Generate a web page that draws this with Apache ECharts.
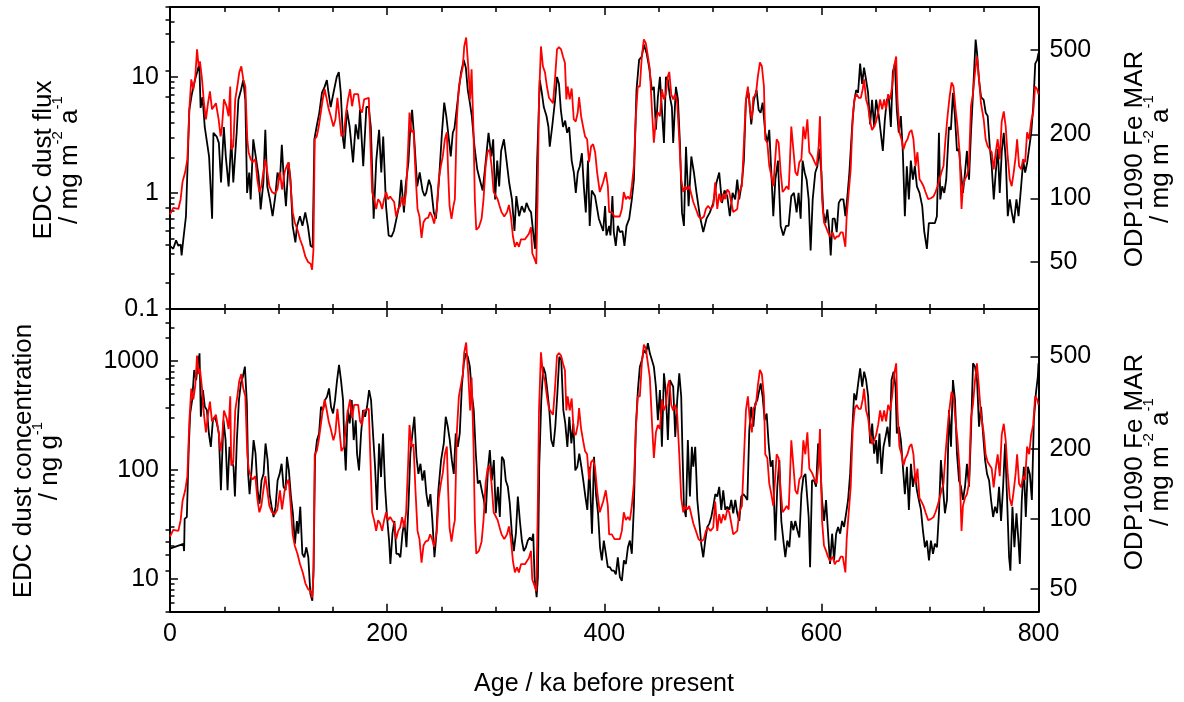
<!DOCTYPE html>
<html>
<head>
<meta charset="utf-8">
<script src="https://cdn.jsdelivr.net/npm/echarts@6/dist/echarts.min.js"></script>
<style>html,body{margin:0;padding:0;background:#fff}#c{width:1184px;height:702px}</style>
</head>
<body>
<div id="c"></div>
<script>
// ---------------- DATA ----------------
// EDC dust flux (mg m-2 a-1), top panel, black
const fluxAge = [0,3,5.6,7.7,9.8,10.7,12.3,14.7,17.8,20,23,25,27,28.2,30,32,36,38.8,40,43,45,47,49.6,51.4,54,56.5,58.3,61.4,63,65.4,67.5,69.4,71,73,74.3,76.7,79,81.6,83.5,86,87.8,89.6,92,94.5,97,99,101.3,103,105,106.8,109.2,111,113,115.5,117,119.7,122,124.6,127,129.5,131.4,133,135,137.5,140,142.4,144.5,146,148,150.6,153.6,155.5,157.3,159.4,160.6,163,165.5,168.6,171,173.5,175,178,180.9,183,185,187.6,190,192.6,194.6,196.4,199,201.4,204,206.2,208.6,211,213,215.5,217,219.6,221.4,223,225,227.7,230,232.6,234.5,236,238.5,240.4,243,245,247.8,250.5,252.6,254.5,256.9,258.6,260.5,262,264,266.4,268,270.6,272.5,274.3,276.2,278,280.5,283,285.4,288,290.4,293.4,296,297.7,299.5,301.4,303.2,305,307.6,310,312.4,315,317.3,319,321.6,324,326.5,328.4,330.8,332.6,334.5,336.3,338.2,340.6,342.5,344.3,346.8,348.6,349.8,352,354.7,356.5,358.3,360,362,364,365.8,367.7,370,372,373.8,375.6,377.5,379.4,381.2,383,385,386.6,388.5,391.5,395,399,400.8,402,404.5,405.7,407.5,408.8,410.6,412.5,414.4,416.8,418.6,420.5,423,425.4,427.3,429.7,432.1,434.6,436.5,439,441.4,443.9,445.7,447.6,449.4,451.3,453.1,455,456.8,458.6,460.5,462.3,463.5,466,467.9,469.7,471.6,473.4,475.3,477.7,480.2,482.6,485,488.1,491.2,494.2,497.3,500.4,503.4,505.9,508.4,510.8,513.3,515.7,518.2,520.6,522.5,524.3,526.8,528.6,530.5,533,535.4,537.9,540.3,542.2,544,545.9,548.3,550.2,552,553.9,555.7,557.6,560,562.5,564.9,567.4,569.8,572.3,574.7,577.2,579,580.9,582.7,584.6,586.4,588.3,590.1,592,594.4,596.3,598.1,600,601.8,603.7,605.5,607.4,608.6,610.4,612.3,614.1,616,617.8,620.3,622.1,624,625.8,628.3,630.1,632,633.8,635.7,637.5,639.3,641.2,643,644.9,646.7,648.6,650.4,652.9,654.7,656.6,658.4,660.3,662.1,664,665.8,667.7,669.5,671.3,673.2,675,676.9,678.7,680.6,682.4,684.3,686.1,688,690.4,692.9,694.7,697.2,699,701.5,704.6,706.4,708.3,709.5,711.3,713.2,715,717.5,719.3,721.2,723,724.9,726.7,728.6,730.4,732.3,734.1,736,737.8,739.7,742.1,743.4,745.2,747.1,749.5,751.4,753.2,755.1,756.9,758.8,760.6,762.5,764.3,766.2,768,769.9,771.7,773.6,775.4,777.3,779.7,781.6,784,785.9,787.7,789.6,791.4,793.3,795.1,797,798.8,800];
const fluxVal = [0.35,0.33,0.39,0.35,0.36,0.29,0.40,0.63,5.2,7.0,9.4,11,13,5.4,6.7,3.7,2.06,0.6,3.3,3.06,2.7,1.23,3.7,2.06,1.14,2.9,1.23,3.3,6.35,7.7,9.4,6.3,1.0,1.5,0.88,2.9,2.06,1.4,0.72,1.23,3.5,1.14,0.88,0.63,0.94,1.5,1.3,2.6,1.23,0.77,1.83,1.3,0.52,0.375,0.52,0.63,0.52,0.68,0.52,0.35,0.34,2.9,3.7,4.9,7.3,8.2,9.4,7.3,5.5,7.3,10,11,7.3,2.9,2.4,5.2,3.7,1.83,3.9,2.9,5.2,1.7,5.5,5.5,3.7,0.6,1.9,3.5,1.5,3.06,0.77,0.43,0.42,0.47,0.6,0.77,1.3,0.68,1.14,1.83,3.7,5.2,2.9,1.14,1.5,1.05,0.94,1.0,1.3,1.14,0.68,0.6,1.3,3.3,6,4.6,2.9,2.06,3.3,3.6,5.2,8.2,10.8,14,12,7.7,6,4.6,2.5,1.6,1.3,1.05,1.7,3.3,2.06,2.9,0.88,1.9,1.14,2.3,2.9,1.9,1.23,0.88,0.47,0.94,0.63,0.77,0.68,0.82,0.72,0.68,0.46,0.33,1.9,9.4,7.3,5.5,4.6,3.7,2.5,3.7,6.3,10,8.7,5.2,3.7,4.2,3.3,3.7,1.9,1.5,1.0,1.5,1.7,2.2,1.14,0.68,1.9,0.52,1.05,0.94,0.6,0.47,0.77,0.43,0.52,0.43,0.94,0.46,0.35,0.52,0.46,0.47,0.35,0.52,0.6,0.88,1.3,7.7,14,15,19,16,12,7.7,8.2,3.5,6.7,10,5.2,2.7,10,9.4,6.7,5.5,2.7,8.2,6.35,2.7,0.68,0.52,2.5,0.77,2.06,1.5,1.0,0.63,0.46,0.6,0.68,0.82,1.23,1.5,0.82,1.05,0.94,0.63,1.0,0.88,1.3,0.88,1.23,1.9,6.35,7.3,3.9,6.35,7.7,5.2,4.9,6,3.3,2.7,3.5,1.5,0.63,1.3,1.9,0.52,0.43,0.52,0.52,0.94,1.0,0.68,1.0,0.6,1.9,1.5,1.3,0.88,0.32,0.88,1.5,1.7,2.4,1.5,0.68,0.55,0.72,0.46,0.29,0.6,0.6,0.46,0.82,0.88,0.88,0.63,0.94,1.5,3.7,6,7.7,7.3,13,8.7,12,9.4,7.3,3.9,6.35,3.7,6.35,4.6,3.3,2.3,4.2,6.35,6.7,3.7,11,13,5.2,3.3,4.6,2.3,0.63,1.7,0.88,1.9,1.3,1.7,1.14,1.0,0.77,0.47,0.33,0.55,0.55,0.55,0.63,3.3,0.88,1.14,1.0,1.3,3.7,3.5,7.3,4.6,2.3,2.4,1.5,1.0,1.5,2.3,1.3,3.3,7.3,21,16,9.4,6.7,6.35,4.9,4.6,2.5,1.7,0.88,1.5,2.4,1.0,2.3,3.3,1.9,0.63,0.88,0.68,0.55,0.88,0.63,1.14,1.9,1.5,1.83,1.9,3.3,5.5,13,14,16];

// EDC dust concentration (ng g-1), bottom panel, black
const concAge = [0,12.3,13,13.5,15.5,17.3,18.6,20.4,22.3,24.1,25.4,27.2,28.4,30.3,32.1,34,35.8,37.6,39.5,41.3,43.2,45,46.9,49.3,51.2,53,54.8,56.7,58.5,59.8,61.6,63.5,65.3,67.1,69,70.8,72,73.3,75.1,77,78.8,80.7,82.5,84.3,86.2,88,89.9,91.7,93.6,95.4,97.3,99.1,101,102.8,104.6,106.5,107.7,109.5,111.4,113.2,115.1,116.9,118.2,120,121.9,123.7,125.6,127.4,129.3,131.1,132.3,133.6,135.4,137.3,139.1,141,142.8,144.6,146.5,148.3,150.2,152,153.9,155.7,157.5,159.4,160.6,161.9,163.7,165.5,167.4,169.2,171.1,172.3,174.1,176,177.8,179.7,181.5,183.4,185.2,187,188.9,190.7,192.6,194.4,196.2,198.1,199.9,201.8,203,204.9,206.7,208.5,210.4,212.2,214.1,215.9,217.8,219.6,221.4,223.3,225.1,227,228.8,230.7,232.5,234.3,236.2,238,239.9,241.7,243.6,245.4,247.2,249.7,252.2,254,255.9,257.7,259.6,261.4,263.2,265.1,266.9,268.8,270.6,272.5,274.3,276.2,278,279.8,281.7,283.5,285.4,287.2,289.1,290.9,292.8,294.6,296.4,298.3,300.1,302,303.8,305.7,307.5,309.3,311.2,313,314.9,316.7,318.6,320.4,322.3,324.1,325.9,327.8,329.6,331.5,333.3,334.6,335.8,337.7,338.9,340.1,342,343.8,345.7,347.5,349.4,351.2,353.1,354.9,356.8,358.6,360.4,362.3,364.1,366,367.8,369.7,371.5,373.3,375.2,377,378.9,380.7,382.6,384.4,386.3,387.5,388.7,390.6,392.4,394.3,396.1,397.8,399.6,401.5,403.3,405.2,407,408.9,410.7,412.5,414.4,416.2,418.1,419.9,421.8,423.6,425.4,427.3,429.1,431,432.8,434.7,436.5,438.4,440.2,442,443.9,445.7,447.6,449.4,451.3,453.1,455,456.8,458.6,460.5,462.3,463.5,465.4,467.2,469.1,470.9,472.1,473.4,475.2,477,478.9,480.7,482,483.8,485.7,487.5,489.3,491.2,493,494.9,496.7,498.6,500.4,502.3,504.1,505.9,507.8,509.6,511.5,513.3,515.2,517,518.8,520.7,522.5,524.4,526.2,528.1,529.9,531.8,533.6,535.4,537.3,539.1,541,542.2,544.1,545.9,547.8,549.6,551.4,553.3,555.1,557.6,559.4,561.3,563.1,565,566.8,568.6,570.5,572.3,574.2,576,577.9,579.7,581.6,583.4,585.3,587.1,588.3,589.6,591.4,593.3,595.1,597,598.8,600.6,602.5,604.3,606.2,608,609.9,611.7,613.6,615.4,617.3,619.1,620.9,622.8,624.6,626.5,628.3,630.2,632,633.9,635.7,637.6,639.4,641.2,643.1,644.9,646.8,648.6,650.5,651.7,653.5,655.4,657.2,659.1,660.9,662.8,664.6,666.5,668.3,669.5,671.4,673.2,675.1,676.9,678.8,680.6,682.5,684.3,686.2,688,689.8,691.7,693.5,695.4,697.2,699.1,700.9,702.8,704.6,706.5,708.3,710.1,712,713.8,715.7,717.5,719.4,721.2,723.1,724.9,726.8,728.6,730.4,732.3,734.1,736,737.8,739.7,741.5,743.4,745.2,747.1,748.9,750.8,752.6,754.5,756.3,758.2,760,761.8,763.7,765.5,767.4,769.2,771.1,772.9,774.1,776,777.8,779.7,781.5,782.8,784.6,786.5,788.3,790.2,792,793.9,795.7,797.6,799.4,800];
const concVal = [19,21,18,35.6,37,163,330,437,826,668,887,1176,308,541,380,354,216,163,286,308,267,216,65,286,188,65,163,123,107,57,188,437,623,717,887,407,92,60,99,188,141,65,49,80,92,175,123,60,46,37,46,80,92,114,70,65,132,99,57,40,21,34,26,46,17,15.8,19.5,15.8,7.3,6.3,12.8,132,188,216,380,354,437,470,560,380,330,437,668,919,668,437,175,99,354,267,437,188,286,141,99,216,354,308,380,541,437,216,107,43,175,86,216,70,37,22.5,13.7,26,34,17,17,15.8,26,34,19.5,46,141,216,308,132,92,114,80,99,60,46,60,34,15.8,26,65,123,175,308,249,188,123,92,216,163,216,580,952,1176,1095,887,504,354,141,75,80,65,53,40,99,152,80,123,40,70,37,132,123,80,70,49,26,18,26,57,34,22.5,18,19.5,22.5,24,22.5,26,10.4,6.8,10.4,107,437,887,770,541,354,188,163,249,504,1095,1021,354,267,163,308,175,267,99,107,141,107,80,57,43,107,53,26,132,60,40,19.5,14.8,22.5,17,12.8,12.8,11.9,11.9,11,15.8,10.4,9.6,14.8,13.7,19.5,22.5,17,46,249,541,887,1021,1263,1176,1455,1176,1021,887,580,286,541,163,770,504,188,668,668,580,201,437,770,470,141,46,37,188,57,163,107,163,53,34,21,15.8,22.5,30,32,37,46,60,57,70,43,65,43,46,43,53,40,53,40,34,57,60,57,53,232,380,249,407,437,504,623,470,286,330,175,107,123,22.5,70,123,34,22.5,15.8,22.5,19.5,34,28,34,28,24,60,86,92,92,37,12.8,80,80,70,175,123,53,34,53,26,13.7,26,14.8,26,30,26,34,30,40,53,92,216,504,437,623,857,580,798,668,470,175,267,141,188,114,216,92,163,201,249,163,668,798,580,216,249,188,107,60,107,43,114,70,92,65,53,43,28,19.5,22.5,14.8,22.5,17,21,19.5,40,123,70,40,53,354,163,668,437,141,80,70,53,70,114,70,216,952,887,668,249,380,216,123,92,80,53,37,46,40,70,34,70,175,53,15.8,11.9,46,19.5,40,22.5,13.7,53,107,37,107,92,53,286,504,717,952];

// ODP1090 Fe MAR (mg m-2 a-1), red, both panels
const feAge = [0,3,7.7,9.8,11.6,14,16,17.8,19.6,21.5,23.3,24.9,26.4,27.6,29.5,31.3,33.1,35,36.8,38.7,40.5,42.3,44.8,46.6,47.9,49.7,52.1,54,55.5,56.4,58.3,60.1,62,63.8,65.7,67.5,69.4,71.2,72.4,74.3,76.1,78.6,80.4,82.3,84.1,86,87.8,89.6,91.5,94,96.4,98.9,101.3,103.2,105.6,107.5,109.3,111.2,113,114.9,117.4,119.8,122.3,124.7,127.2,129.6,130.9,132.1,133.3,135.2,137,138.9,140.7,142.5,144.4,146.2,148.1,150.5,152.4,154.2,156,157.9,160.3,162.2,164,165.9,167.7,169.6,171.4,173.3,175.1,176.9,178.8,180.6,183.1,184.9,186.2,188,189.9,191.7,193.5,195.4,197.2,199.1,200.9,202.8,204.6,206.5,208.3,210.2,212,213.8,215.7,217.5,219.4,220.6,222.4,224.3,226.1,228,229.8,231.7,233.5,235.4,237.8,239.6,241.5,243.3,245.8,247.6,249.5,251.3,253.2,255,256.2,257.5,259.3,261.1,262.4,264.2,266.1,267.9,269.8,271,272.8,274.7,276.5,277.8,279.6,280.8,282.1,284.5,287,288.8,290.7,292.5,294.4,296.2,298.1,299.9,301.8,303.6,305.4,307.9,310.4,312.2,314,315.9,317.7,319.6,321.4,323.3,325.1,327,328.8,330.6,332.5,333.7,335.6,337.4,338.6,339.9,341.7,343.5,345.4,347.2,349.1,350.9,352.8,354.6,356.5,358.3,360.2,362,363.8,365.1,366.3,368.2,370,371.9,373.7,375.6,376.8,378.7,380.5,382.3,384.2,386,387.9,389.7,391.6,393.4,395.9,399,401.4,403.3,404.5,407,409.4,411.9,414.3,416.2,418,419.9,421.7,423.6,425.4,427.3,429.1,430.9,432.8,434.6,436.5,438.3,440.2,442,443.9,445.7,447.6,449.4,451.3,453.1,454.9,456.8,458.6,459.9,461.7,463.5,465.4,467.2,469.1,470.9,472.8,474.6,476.4,478.3,480.1,482,484.4,486.9,489.3,491.8,493.6,495.5,497.9,500.4,502.2,504.1,505.9,507.7,509.6,511.4,513.3,515.1,517,518.8,520.6,522.5,524.3,526.8,528.6,530.5,532.3,534.2,536,537.2,539.7,541.5,543.4,545.2,547.1,548.3,550.2,552,553.9,555.7,557.5,558.8,560.6,562.5,564.3,566.2,568,569.9,571.1,572.3,574.2,576,577.9,579.7,581.6,583.4,585.2,587.1,588.9,591.4,593.8,595.6,597.5,598.7,600.6,602.4,604.3,606.1,607.9,610.4,612.3,614.1,616,617.8,619.7,622.1,623.3,625.2,627,628.9,630.7,632.6,634.4,636.3,638.1,639.3,641.2,643,644.9,646.7,648.6,650.4,652.3,654.1,656,657.8,659.6,661.5,663.3,665.2,667,668.9,670.1,671.9,673.8,675.6,677.5,679.3,681.2,683,684.8,686.7,688.5,690.4,692.2,694.1,695.9,698.4,700.8,703.3,705.1,707,708.8,710.7,712.5,714.3,716.2,718,719.9,721.7,723.6,725.4,727.3,729.1,730.4,732.2,734.1,735.9,737.8,739.6,741.5,743.3,745.2,747,749.5,751.3,753.2,755,756.9,758.7,760.6,762.4,764.3,766.1,768,769.8,771.6,773.5,775.3,777.2,779,780.3,782.1,784,785.8,787.7,789.5,791.4,793.2,795.1,796.9,798.8,800];
const feVal = [84,90,89,99,120,133,153,263,364,327,376,505,420,443,364,281,236,281,320,263,263,281,236,196,218,293,272,244,337,170,176,293,337,393,420,364,337,190,165,153,148,153,123,107,114,133,153,133,114,107,105,110,133,110,133,142,148,114,86,77,71,64,59,53,50,49,46,57,190,196,218,254,293,327,293,263,244,218,236,298,293,196,205,254,293,327,272,310,315,310,263,254,293,298,298,300,107,99,89,99,96,89,99,107,99,102,99,96,82,89,92,102,92,107,176,254,205,210,133,89,82,65,77,80,81,86,82,76,89,123,142,158,190,205,133,92,80,92,99,236,337,376,420,521,574,420,293,406,205,99,71,73,80,99,142,165,170,142,107,105,99,92,86,82,86,93,82,66,59,62,59,64,64,64,66,68,73,55,52,49,99,293,521,420,393,337,298,293,281,364,505,517,505,467,435,293,337,293,330,236,230,254,300,244,218,196,190,148,176,180,165,133,107,119,133,114,86,86,82,82,82,89,107,99,102,99,114,142,244,337,337,467,562,540,467,406,263,183,236,254,244,327,293,310,376,395,310,293,310,281,190,123,107,114,110,114,105,96,89,82,80,82,89,92,89,92,119,89,105,96,105,99,110,107,96,86,86,89,107,114,180,293,337,263,236,298,310,376,438,420,337,190,183,142,128,114,153,190,183,133,107,110,114,110,153,218,170,133,128,148,153,218,190,236,165,158,148,142,176,244,99,77,73,69,66,69,64,66,66,69,69,59,82,107,137,244,298,310,298,298,327,364,293,272,230,210,218,230,254,293,263,293,263,310,293,337,420,467,293,205,190,170,183,190,205,210,190,142,165,123,119,114,107,99,100,102,107,114,114,133,142,190,244,298,352,337,263,218,165,89,114,123,128,142,272,310,393,467,364,281,236,190,176,176,165,137,165,190,153,230,257,218,158,123,114,133,158,190,142,137,153,148,205,190,230,254,337,327,310];

// Axis ranges and tick labels
const ageTicks = [0, 200, 400, 600, 800];
const fluxTicks = [0.1, 1, 10];
const concTicks = [10, 100, 1000];
const feTicks = [50, 100, 200, 500];
const fluxRange = [0.1, 40];
const concRange = [5, 3000];
const feRangeTop = [30, 800];
const feRangeBottom = [40, 800];

// ---------------- CHART ----------------
const F = "'Liberation Sans', Arial, Helvetica, sans-serif";
const BLACK = '#000000', RED = '#ff0000';

function zip(a, b) { return a.map((x, i) => [x, b[i]]); }
function logMinor(range, majors) {
  const out = [];
  for (let e = -2; e <= 4; e++) {
    for (let m = 1; m < 10; m++) {
      const v = +(m * Math.pow(10, e)).toPrecision(6);
      if (v >= range[0] - 1e-12 && v <= range[1] + 1e-12 && majors.indexOf(v) < 0) out.push(v);
    }
  }
  return out;
}

function yAxes(grid, pos, range, majors) {
  const base = {
    type: 'log', logBase: 10, gridIndex: grid, position: pos, offset: 0,
    min: range[0], max: range[1], splitLine: { show: false }, minorSplitLine: { show: false }
  };
  return [
    Object.assign({}, base, {
      axisLine: { show: true, onZero: false, lineStyle: { color: BLACK, width: 2 } },
      axisTick: { show: true, inside: true, length: 8, customValues: majors, lineStyle: { color: BLACK, width: 1.5 } },
      axisLabel: { show: true, customValues: majors, color: BLACK, fontSize: 25, fontFamily: F, margin: 11,
        formatter: v => String(+(+v).toPrecision(6)) }
    }),
    Object.assign({}, base, {
      axisLine: { show: false },
      axisTick: { show: true, inside: true, length: 4.5, customValues: logMinor(range, majors), lineStyle: { color: BLACK, width: 1.5 } },
      axisLabel: { show: false }
    })
  ];
}

function xAxis(grid, pos, labels) {
  return {
    type: 'value', gridIndex: grid, position: pos, min: 0, max: 800, interval: 200,
    axisLine: { show: true, onZero: false, lineStyle: { color: BLACK, width: 2 } },
    axisTick: { show: true, inside: true, length: 8, lineStyle: { color: BLACK, width: 1.5 } },
    minorTick: { show: true, splitNumber: 4, length: 5, lineStyle: { color: BLACK, width: 1.5 } },
    axisLabel: { show: labels, customValues: ageTicks, color: BLACK, fontSize: 25, fontFamily: F, margin: 10 },
    splitLine: { show: false }, minorSplitLine: { show: false }
  };
}

// yAxis order: 0 flux-left major, 1 flux-left minor, 2 fe-top major, 3 fe-top minor,
//              4 conc-left major, 5 conc-left minor, 6 fe-bottom major, 7 fe-bottom minor
const yAxisList = [].concat(
  yAxes(0, 'left', fluxRange, fluxTicks),
  yAxes(0, 'right', feRangeTop, feTicks),
  yAxes(1, 'left', concRange, concTicks),
  yAxes(1, 'right', feRangeBottom, feTicks)
);

function title(x, y, l1, l2) {
  return {
    type: 'text', x: x, y: y, rotation: Math.PI / 2, silent: true,
    style: {
      text: '{a|' + l1 + '}\n' + l2,
      fill: BLACK, fontSize: 26, fontFamily: F,
      align: 'center', verticalAlign: 'middle',
      rich: {
        a: { fontSize: 26, fontFamily: F, fill: BLACK, lineHeight: 12 },
        b: { fontSize: 26, fontFamily: F, fill: BLACK, lineHeight: 40 },
        s: { fontSize: 15, fontFamily: F, fill: BLACK, lineHeight: 1, verticalAlign: 'top' }
      }
    }
  };
}

const lineSeries = (name, xi, yi, data, color) => ({
  name: name, type: 'line', xAxisIndex: xi, yAxisIndex: yi, data: data,
  showSymbol: false, symbol: 'none', smooth: false, animation: false, clip: true,
  lineStyle: { color: color, width: 1.8 }, emphasis: { disabled: true }
});

const chart = echarts.init(document.getElementById('c'), null, { renderer: 'canvas' });
chart.setOption({
  backgroundColor: '#ffffff',
  animation: false,
  grid: [
    { left: 170, top: 7, width: 868.5, height: 302, outerBoundsMode: 'none', containLabel: false },
    { left: 170, top: 309, width: 868.5, height: 302.7, outerBoundsMode: 'none', containLabel: false }
  ],
  xAxis: [
    xAxis(0, 'bottom', false),
    xAxis(0, 'top', false),
    xAxis(1, 'top', false),
    xAxis(1, 'bottom', true)
  ],
  yAxis: yAxisList,
  series: [
    lineSeries('EDC dust flux', 0, 0, zip(fluxAge, fluxVal), BLACK),
    lineSeries('ODP1090 Fe MAR', 0, 2, zip(feAge, feVal), RED),
    lineSeries('EDC dust concentration', 3, 4, zip(concAge, concVal), BLACK),
    lineSeries('ODP1090 Fe MAR', 3, 6, zip(feAge, feVal), RED)
  ],
  graphic: [
    title(64, 160, 'EDC dust flux', '{b|/ mg m}{s|-2}{b| a}{s|-1}'),
    title(44, 461, 'EDC dust concentration', '{b|/ ng g}{s|-1}'),
    title(1155, 159, 'ODP1090 Fe MAR', '{b|/ mg m}{s|-2}{b| a}{s|-1}'),
    title(1155, 462, 'ODP1090 Fe MAR', '{b|/ mg m}{s|-2}{b| a}{s|-1}'),
    {
      type: 'text', x: 604, y: 684, silent: true,
      style: { text: 'Age / ka before present', fill: BLACK, fontSize: 25, fontFamily: F, align: 'center', verticalAlign: 'middle' }
    }
  ]
});
</script>
</body>
</html>
